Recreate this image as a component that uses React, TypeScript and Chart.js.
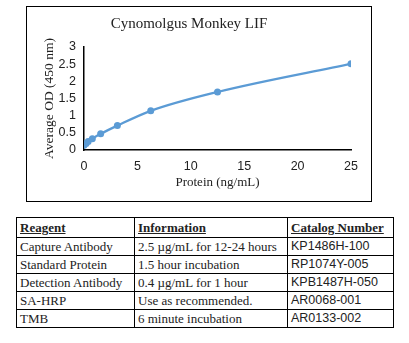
import React, { useEffect, useRef } from "react";
import { Chart, registerables } from "chart.js";

Chart.register(...registerables);

const concentrations = [0, 0.195, 0.39, 0.78, 1.56, 3.125, 6.25, 12.5, 25];
const odValues = [0.14, 0.19, 0.25, 0.33, 0.47, 0.71, 1.14, 1.69, 2.51];
const chartTitle = "Cynomolgus Monkey LIF";
const xTitle = "Protein (ng/mL)";
const yTitle = "Average OD (450 nm)";

const tableHeaders = ["Reagent", "Information", "Catalog Number"];
const reagents = ["Capture Antibody", "Standard Protein", "Detection Antibody", "SA-HRP", "TMB"];
const information = [
  "2.5 µg/mL for 12-24 hours",
  "1.5 hour incubation",
  "0.4 µg/mL for 1 hour",
  "Use as recommended.",
  "6 minute incubation",
];
const catalogNumbers = ["KP1486H-100", "RP1074Y-005", "KPB1487H-050", "AR0068-001", "AR0133-002"];

const serif = "'Liberation Serif', 'Times New Roman', serif";
const sans = "'Liberation Sans', Arial, sans-serif";

function LifChart() {
  const ref = useRef<HTMLCanvasElement | null>(null);
  useEffect(() => {
    if (!ref.current) return;
    const chart = new Chart(ref.current, {
      type: "line",
      data: {
        datasets: [
          {
            data: concentrations.map((x, i) => ({ x, y: odValues[i] })),
            borderColor: "#5B9BD5",
            backgroundColor: "#5B9BD5",
            borderWidth: 2.25,
            pointRadius: 3.5,
            pointBorderWidth: 0,
            tension: 0.4,
            cubicInterpolationMode: "monotone",
            fill: false,
          },
        ],
      },
      options: {
        animation: false,
        responsive: false,
        devicePixelRatio: 1,
        layout: { autoPadding: false, padding: { left: 0, right: 20, top: 0, bottom: 0 } },
        plugins: {
          legend: { display: false },
          tooltip: { enabled: false },
          title: {
            display: true,
            text: chartTitle,
            color: "#222",
            font: { family: serif, size: 15, weight: "normal" },
            padding: { top: 8, bottom: 14 },
          },
        },
        scales: {
          x: {
            type: "linear",
            min: 0,
            max: 25,
            grid: { display: false, drawTicks: false },
            border: { display: true, color: "#000", width: 1.5 },
            ticks: {
              stepSize: 5,
              padding: 9,
              autoSkip: false,
              color: "#222",
              font: { family: sans, size: 12.5 },
              callback: (v: any) => String(v),
            },
            title: {
              display: true,
              text: xTitle,
              color: "#222",
              font: { family: serif, size: 13 },
              padding: { top: 2, bottom: 11 },
            },
            afterFit: (s: any) => {
              s.height = 51;
            },
          },
          y: {
            type: "linear",
            min: 0,
            max: 3,
            grid: { display: false, drawTicks: false },
            border: { display: true, color: "#000", width: 1.5 },
            ticks: {
              stepSize: 0.5,
              padding: 8,
              autoSkip: false,
              color: "#222",
              font: { family: sans, size: 12.5 },
              callback: (v: any) => String(v),
            },
            title: {
              display: true,
              text: yTitle,
              color: "#222",
              font: { family: serif, size: 13.5 },
              padding: { top: 14, bottom: 0 },
            },
            afterFit: (s: any) => {
              s.width = 57;
            },
          },
        },
      },
    });
    return () => chart.destroy();
  }, []);
  return <canvas ref={ref} width={344} height={194} style={{ width: 344, height: 194, display: "block" }} />;
}

export default function App() {
  const cell: React.CSSProperties = {
    border: "1px solid #000",
    padding: "0 3px",
    fontFamily: serif,
    fontSize: 13,
    color: "#222",
    height: 17,
    lineHeight: "17px",
    whiteSpace: "nowrap",
    textAlign: "left",
  };
  return (
    <div style={{ position: "absolute", left: 0, top: 0, width: 409, height: 343, background: "#fff" }}>
      <div
        style={{
          position: "absolute",
          left: 26,
          top: 6,
          width: 344,
          height: 194,
          border: "1.5px solid #000",
        }}
      >
        <LifChart />
      </div>
      <table
        style={{
          position: "absolute",
          left: 16,
          top: 217,
          width: 377,
          borderCollapse: "collapse",
          tableLayout: "fixed",
        }}
      >
        <colgroup>
          <col style={{ width: 118 }} />
          <col style={{ width: 153 }} />
          <col style={{ width: 106 }} />
        </colgroup>
        <thead>
          <tr>
            {tableHeaders.map((h) => (
              <th key={h} style={{ ...cell, height: 19, lineHeight: "19px", fontWeight: "bold", textDecoration: "underline" }}>
                {h}
              </th>
            ))}
          </tr>
        </thead>
        <tbody>
          {reagents.map((r, i) => (
            <tr key={r}>
              <td style={cell}>{r}</td>
              <td style={cell}>{information[i]}</td>
              <td style={{ ...cell, fontFamily: sans, fontSize: 12.5 }}>{catalogNumbers[i]}</td>
            </tr>
          ))}
        </tbody>
      </table>
    </div>
  );
}
